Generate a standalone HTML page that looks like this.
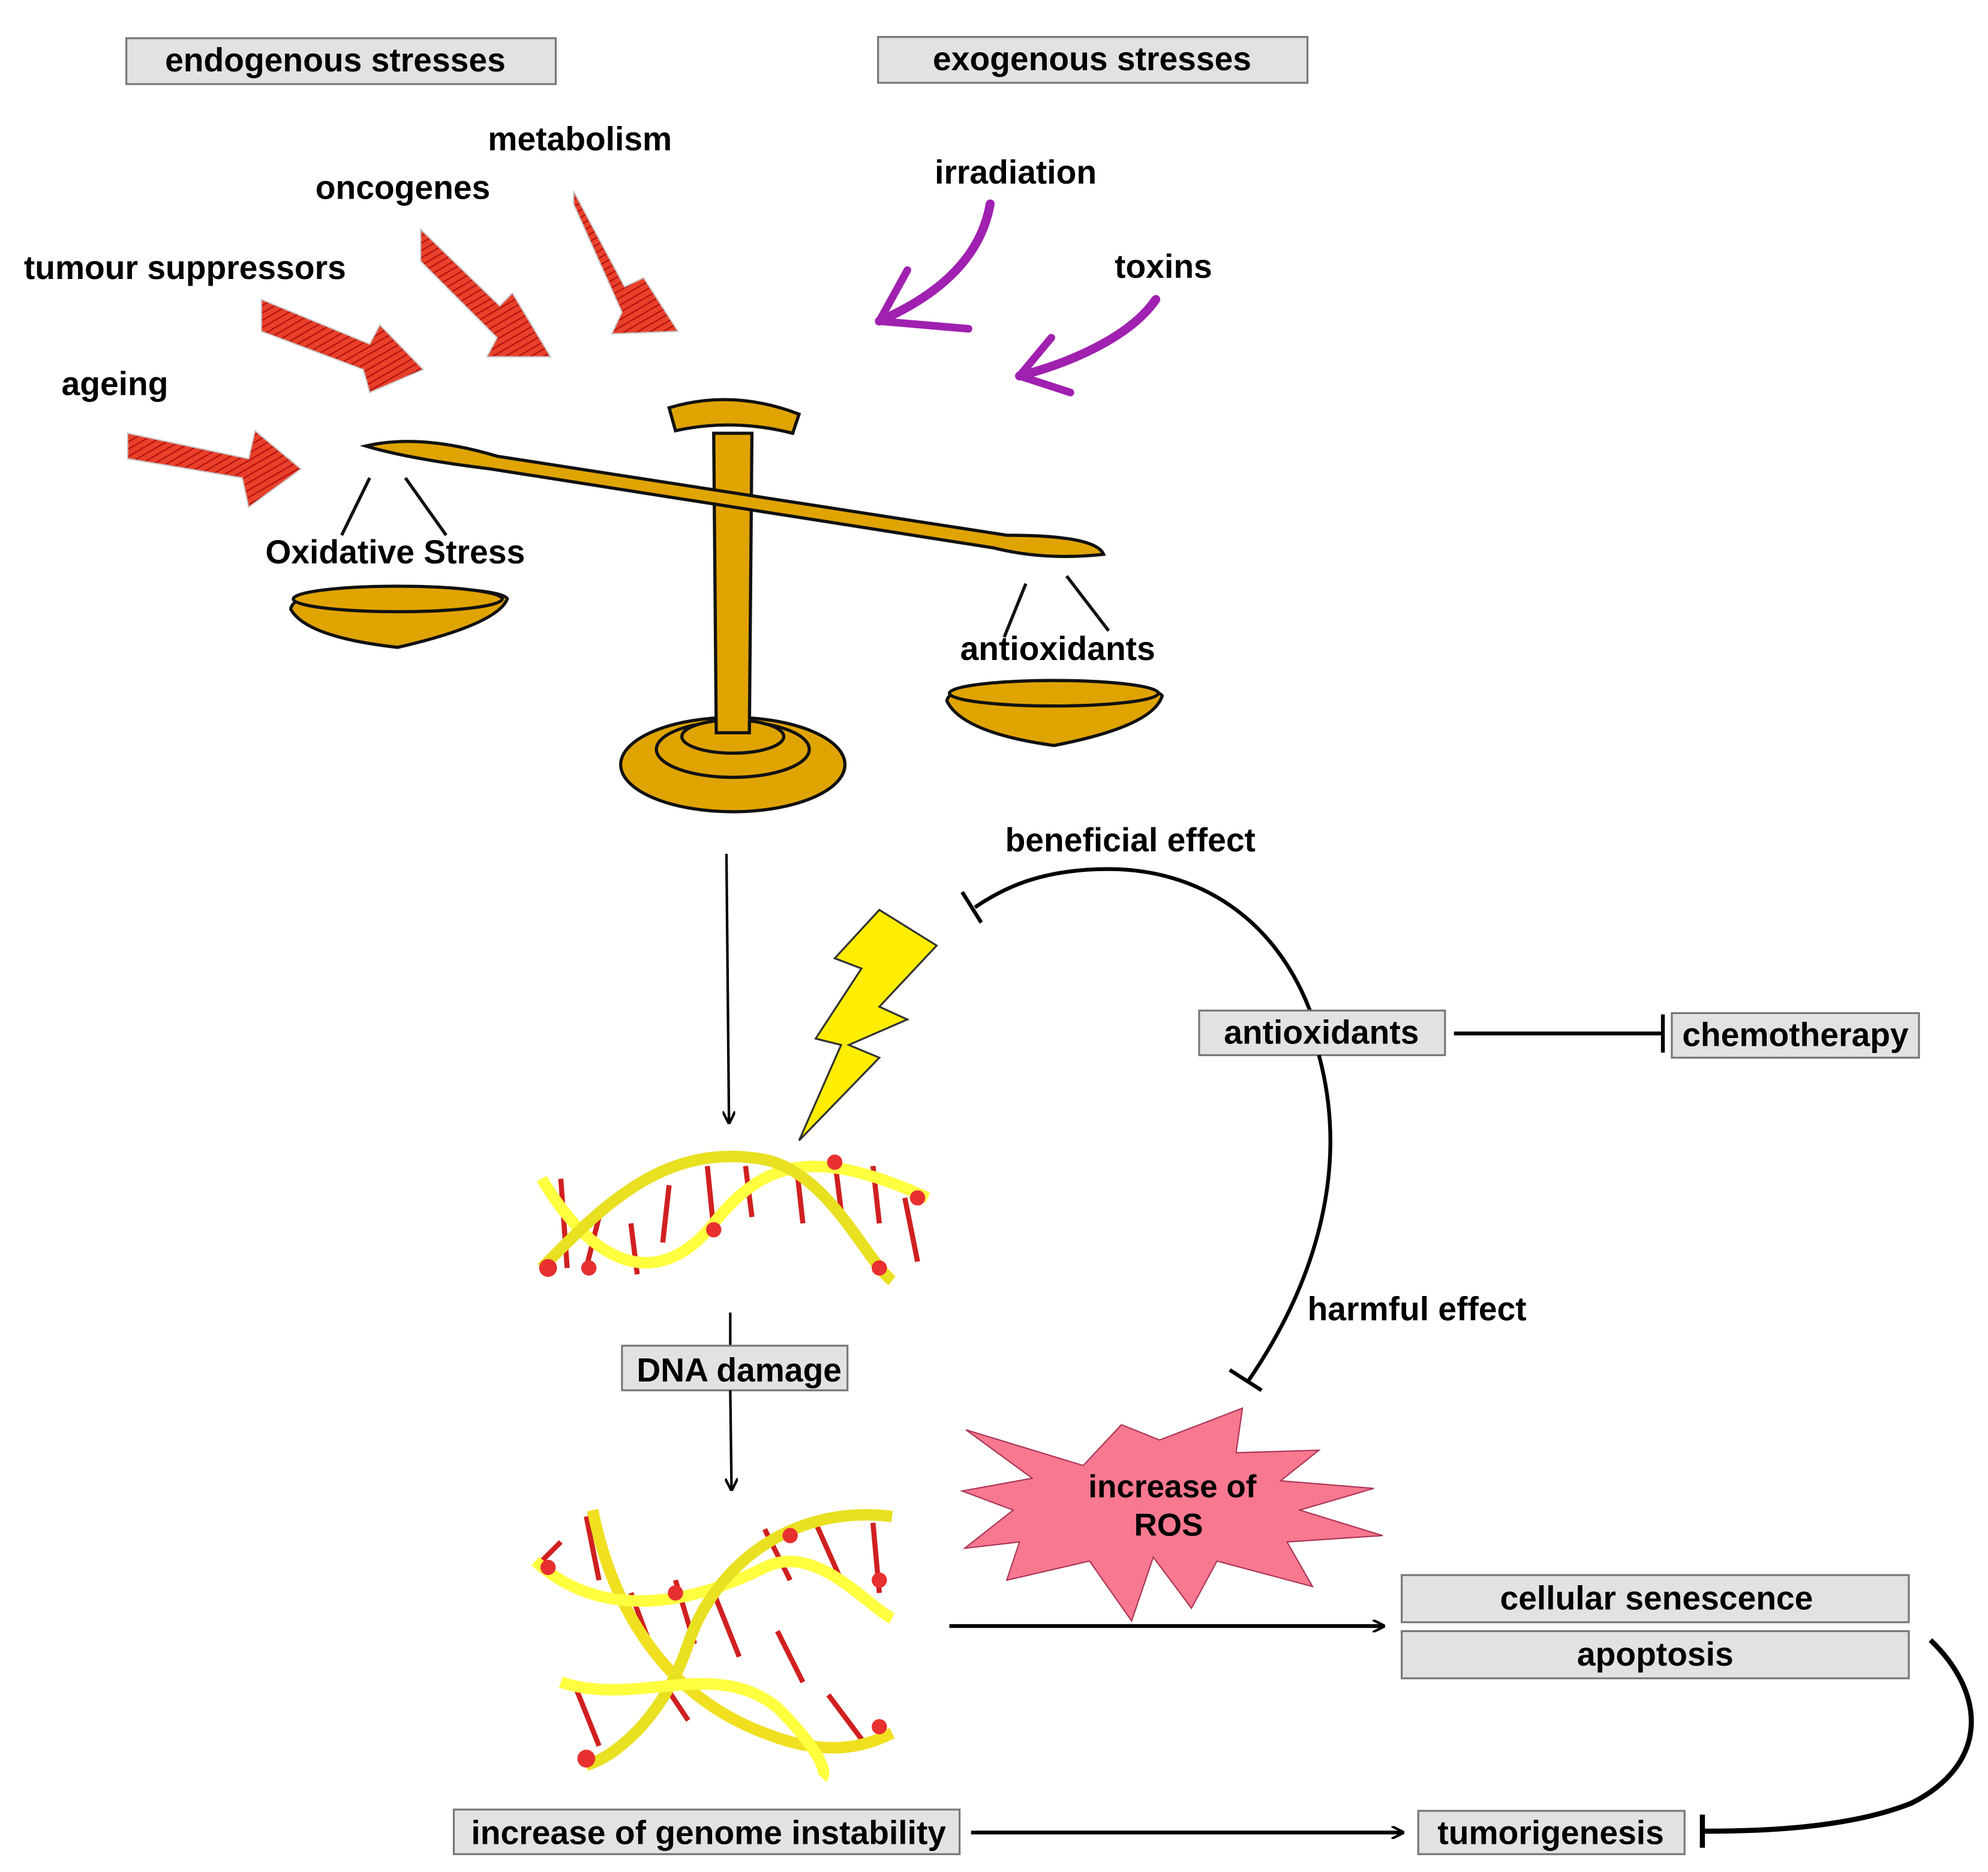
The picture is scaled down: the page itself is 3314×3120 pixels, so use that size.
<!DOCTYPE html>
<html><head><meta charset="utf-8"><style>
html,body{margin:0;padding:0;background:#fff;}
svg{display:block;}
text{font-family:"Liberation Sans",Arial,sans-serif;font-weight:bold;fill:#000;}
</style></head><body>
<svg width="3314" height="3120" viewBox="0 0 1560 1469" xmlns="http://www.w3.org/2000/svg">
<defs>
<marker id="ah" markerWidth="10" markerHeight="10" refX="8" refY="5" orient="auto" markerUnits="userSpaceOnUse"><path d="M0,0 L10,5 L0,10" fill="none" stroke="#000" stroke-width="2"/></marker>
<pattern id="hatch" width="5" height="5" patternUnits="userSpaceOnUse" patternTransform="rotate(60)"><rect width="5" height="5" fill="#e8402a"/><line x1="0" y1="0" x2="0" y2="5" stroke="#b01010" stroke-width="2"/></pattern>
</defs>
<g font-size="26" text-anchor="middle">
<rect x="99" y="30" width="337" height="36" fill="#e2e2e2" stroke="#777" stroke-width="1.5"/>
<text x="263" y="56">endogenous stresses</text>
<rect x="689" y="29" width="337" height="36" fill="#e2e2e2" stroke="#777" stroke-width="1.5"/>
<text x="857" y="55">exogenous stresses</text>
<text x="455" y="118">metabolism</text>
<text x="316" y="156">oncogenes</text>
<text x="145" y="219">tumour suppressors</text>
<text x="90" y="310">ageing</text>
<text x="797" y="144">irradiation</text>
<text x="913" y="218">toxins</text>
</g>
<g fill="url(#hatch)" stroke="#c8c8c8" stroke-width="1">
<polygon points="100,340 195,360 200,338 236,368 195,398 190,375 100,360"/>
<polygon points="205,235 290,270 298,255 332,290 290,308 285,290 205,260"/>
<polygon points="330,180 392,240 402,230 432,280 382,280 390,265 330,205"/>
<polygon points="450,150 490,225 505,218 532,260 480,262 488,245 450,160"/>
</g>
<g fill="none" stroke="#a020b0" stroke-linecap="round">
<path d="M777,160 C770,200 740,230 690,252" stroke-width="7"/>
<path d="M690,252 L712,212 M690,252 L760,258" stroke-width="6"/>
<path d="M907,235 C890,260 850,282 800,295" stroke-width="7"/>
<path d="M800,295 L825,265 M800,295 L840,308" stroke-width="6"/>
</g>
<g fill="#e0a400" stroke="#111" stroke-width="2.5">
<ellipse cx="575" cy="600" rx="88" ry="37"/>
<ellipse cx="575" cy="588" rx="60" ry="22"/>
<ellipse cx="575" cy="578" rx="40" ry="13"/>
<path d="M560,340 L590,340 L588,575 L562,575 Z"/>
<path d="M525,320 Q575,305 627,325 L622,340 Q575,328 530,338 Z"/>
<path d="M287,350 Q330,340 390,358 L790,420 Q860,420 866,435 Q820,440 780,430 L385,368 Q320,360 287,350 Z"/>
<path d="M228,478 Q230,462 310,460 Q395,462 398,470 Q390,490 312,508 Q240,500 228,478 Z"/>
<ellipse cx="312" cy="470" rx="82" ry="10"/>
<path d="M743,550 Q745,535 827,534 Q908,538 912,546 Q905,570 827,585 Q755,575 743,550 Z"/>
<ellipse cx="827" cy="544" rx="82" ry="10"/>
</g>
<g stroke="#111" stroke-width="2.5">
<line x1="290" y1="375" x2="268" y2="420"/><line x1="318" y1="375" x2="350" y2="420"/>
<line x1="805" y1="458" x2="788" y2="500"/><line x1="837" y1="452" x2="870" y2="495"/>
</g>
<g font-size="26" text-anchor="middle">
<text x="310" y="442">Oxidative Stress</text>
<text x="830" y="518">antioxidants</text>
</g>
<line x1="570" y1="670" x2="572" y2="880" stroke="#000" stroke-width="2" marker-end="url(#ah)"/>
<polygon points="690,714 735,742 690,790 712,800 666,820 690,830 627,895 660,820 640,815 676,760 655,752" fill="#ffee00" stroke="#333" stroke-width="1.5"/>
<g stroke="#d02020" stroke-width="4">
<line x1="440" y1="925" x2="445" y2="995"/><line x1="470" y1="955" x2="460" y2="995"/><line x1="495" y1="960" x2="500" y2="1000"/>
<line x1="525" y1="930" x2="520" y2="975"/><line x1="555" y1="915" x2="560" y2="965"/><line x1="585" y1="915" x2="590" y2="955"/>
<line x1="625" y1="915" x2="630" y2="960"/><line x1="655" y1="910" x2="660" y2="950"/><line x1="685" y1="915" x2="690" y2="960"/><line x1="710" y1="940" x2="720" y2="990"/>
</g>
<g fill="none">
<path d="M425,925 C470,1000 520,1010 560,960 C600,910 640,900 728,940" stroke="#ffff40" stroke-width="9"/>
<path d="M425,995 C470,950 520,895 600,910 C650,920 680,990 700,1005" stroke="#e8e020" stroke-width="9"/>
</g>
<g fill="#e83030"><circle cx="430" cy="995" r="7"/><circle cx="462" cy="995" r="6"/><circle cx="560" cy="965" r="6"/><circle cx="655" cy="912" r="6"/><circle cx="720" cy="940" r="6"/><circle cx="690" cy="995" r="6"/></g>
<line x1="573" y1="1030" x2="573" y2="1056" stroke="#000" stroke-width="2"/>
<rect x="488" y="1056" width="177" height="35" fill="#e2e2e2" stroke="#777" stroke-width="1.5"/>
<text x="580" y="1084" font-size="26" text-anchor="middle">DNA damage</text>
<line x1="573" y1="1091" x2="574" y2="1168" stroke="#000" stroke-width="2" marker-end="url(#ah)"/>
<g stroke="#d02020" stroke-width="4">
<line x1="420" y1="1230" x2="440" y2="1210"/><line x1="460" y1="1190" x2="470" y2="1240"/><line x1="495" y1="1250" x2="510" y2="1290"/>
<line x1="530" y1="1240" x2="545" y2="1290"/><line x1="560" y1="1250" x2="580" y2="1300"/><line x1="600" y1="1200" x2="620" y2="1240"/>
<line x1="640" y1="1195" x2="660" y2="1240"/><line x1="685" y1="1195" x2="690" y2="1250"/><line x1="450" y1="1320" x2="470" y2="1370"/>
<line x1="520" y1="1320" x2="540" y2="1350"/><line x1="650" y1="1330" x2="680" y2="1370"/><line x1="610" y1="1280" x2="630" y2="1320"/>
</g>
<g fill="none">
<path d="M465,1185 C480,1260 520,1330 600,1360 C650,1380 680,1370 700,1360" stroke="#f0e020" stroke-width="9"/>
<path d="M420,1225 C480,1280 560,1250 600,1230 C640,1210 680,1260 700,1270" stroke="#ffff40" stroke-width="9"/>
<path d="M700,1190 C620,1180 560,1230 540,1290 C520,1350 480,1380 460,1385" stroke="#e8e020" stroke-width="9"/>
<path d="M440,1320 C500,1340 560,1300 610,1340 C640,1370 650,1390 645,1395" stroke="#ffff40" stroke-width="9"/>
</g>
<g fill="#e83030"><circle cx="460" cy="1380" r="7"/><circle cx="690" cy="1355" r="6"/><circle cx="430" cy="1230" r="6"/><circle cx="620" cy="1205" r="6"/><circle cx="690" cy="1240" r="6"/><circle cx="530" cy="1250" r="6"/></g>
<text x="887" y="668" font-size="26" text-anchor="middle">beneficial effect</text>
<path d="M1028,793 C1000,720 940,682 870,682 C820,682 790,695 765,712" fill="none" stroke="#000" stroke-width="3"/>
<line x1="755" y1="700" x2="770" y2="724" stroke="#000" stroke-width="3"/>
<rect x="941" y="793" width="193" height="35" fill="#e2e2e2" stroke="#777" stroke-width="1.5"/>
<text x="1037" y="819" font-size="26" text-anchor="middle">antioxidants</text>
<line x1="1141" y1="811" x2="1305" y2="811" stroke="#000" stroke-width="3"/>
<line x1="1305" y1="796" x2="1305" y2="826" stroke="#000" stroke-width="3"/>
<rect x="1312" y="795" width="194" height="35" fill="#e2e2e2" stroke="#777" stroke-width="1.5"/>
<text x="1409" y="821" font-size="26" text-anchor="middle">chemotherapy</text>
<path d="M1035,828 C1060,920 1030,1010 980,1083" fill="none" stroke="#000" stroke-width="3"/>
<line x1="965" y1="1075" x2="990" y2="1091" stroke="#000" stroke-width="3"/>
<text x="1112" y="1036" font-size="26" text-anchor="middle">harmful effect</text>
<polygon points="758,1122 850,1150 880,1118 910,1130 975,1105 970,1140 1035,1138 1005,1162 1078,1168 1020,1185 1085,1205 1010,1210 1030,1245 955,1225 935,1262 905,1222 888,1272 855,1225 790,1240 800,1210 757,1215 795,1185 755,1170 810,1160" fill="#f87890" stroke="#aa3355" stroke-width="1"/>
<text x="920" y="1175" font-size="25" text-anchor="middle">increase of</text>
<text x="917" y="1205" font-size="25" text-anchor="middle">ROS</text>
<line x1="745" y1="1276" x2="1085" y2="1276" stroke="#000" stroke-width="3" marker-end="url(#ah)"/>
<rect x="1100" y="1236" width="398" height="37" fill="#e2e2e2" stroke="#777" stroke-width="1.5"/>
<text x="1300" y="1263" font-size="26" text-anchor="middle">cellular senescence</text>
<rect x="1100" y="1280" width="398" height="37" fill="#e2e2e2" stroke="#777" stroke-width="1.5"/>
<text x="1299" y="1307" font-size="26" text-anchor="middle">apoptosis</text>
<path d="M1515,1287 C1560,1330 1560,1385 1500,1415 C1450,1435 1380,1437 1338,1437" fill="none" stroke="#000" stroke-width="4"/>
<line x1="1336" y1="1424" x2="1336" y2="1450" stroke="#000" stroke-width="4"/>
<rect x="356" y="1420" width="397" height="35" fill="#e2e2e2" stroke="#777" stroke-width="1.5"/>
<text x="556" y="1447" font-size="26" text-anchor="middle">increase of genome instability</text>
<line x1="762" y1="1438" x2="1100" y2="1438" stroke="#000" stroke-width="3" marker-end="url(#ah)"/>
<rect x="1113" y="1421" width="209" height="34" fill="#e2e2e2" stroke="#777" stroke-width="1.5"/>
<text x="1217" y="1447" font-size="26" text-anchor="middle">tumorigenesis</text>
</svg>
</body></html>
